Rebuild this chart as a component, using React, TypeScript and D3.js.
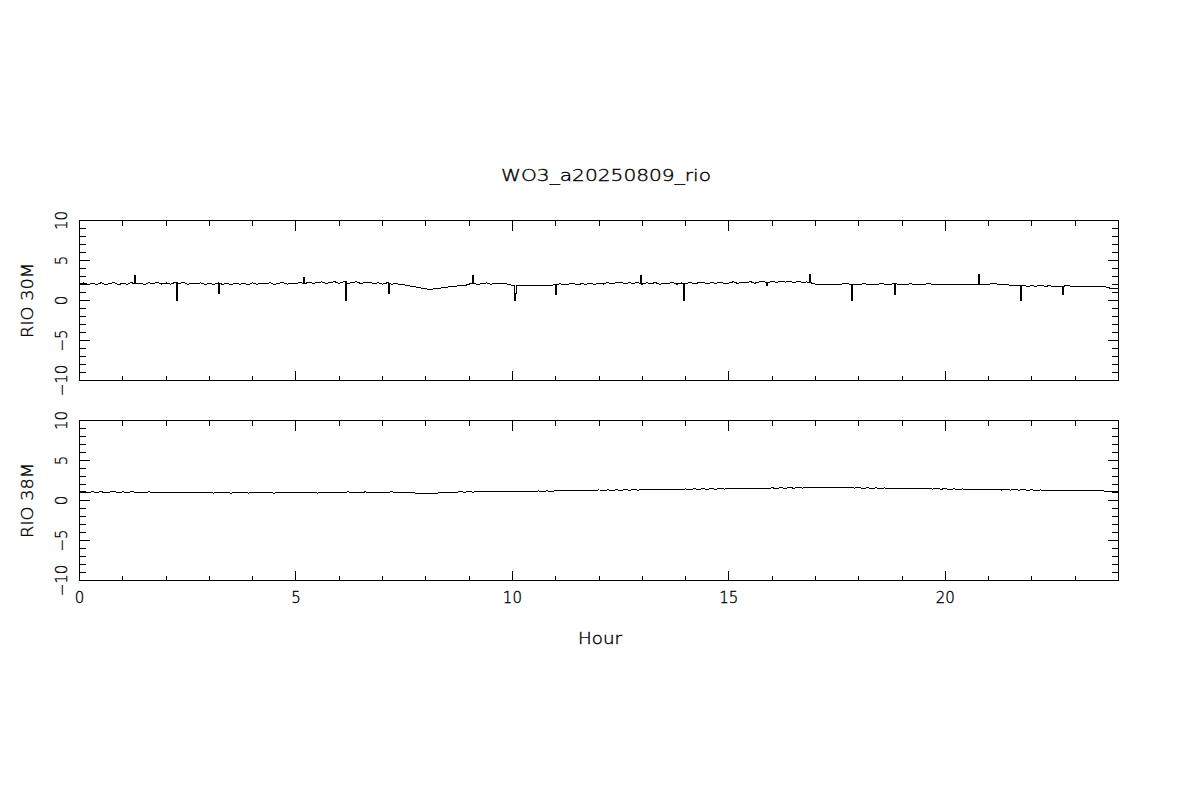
import React from "react";
import * as d3 from "d3";

const TITLE = "WO3_a20250809_rio";
const X_LABEL = "Hour";
const PANEL_LABELS = ["RIO 30M", "RIO 38M"];
const X_TICK_LABELS = [0, 5, 10, 15, 20];
const Y_TICK_LABELS = [-10, -5, 0, 5, 10];
const STEP = 0.1; // hours between samples

const rio30M = [
  2.05, 2.20, 1.98, 2.15, 2.02, 2.22, 2.00, 2.12, 2.24, 1.98,
  2.15, 2.02, 2.25, 2.08, 2.18, 2.00, 2.22, 2.10, 2.26, 2.05,
  2.20, 2.05, 2.24, 2.10, 2.28, 2.02, 2.18, 2.08, 2.22, 2.00,
  2.15, 1.98, 2.20, 2.02, 2.14, 1.96, 2.18, 2.04, 2.12, 1.98,
  2.20, 2.02, 2.18, 2.06, 2.24, 2.00, 2.16, 2.25, 2.04, 2.18,
  2.12, 2.28, 2.10, 2.30, 2.14, 2.26, 2.32, 2.12, 2.28, 2.34,
  2.14, 2.32, 2.10, 2.28, 2.34, 2.12, 2.24, 2.30, 2.08, 2.22,
  2.05, 2.20, 2.02, 2.14, 2.00, 1.95, 1.85, 1.75, 1.65, 1.55,
  1.45, 1.38, 1.46, 1.52, 1.60, 1.68, 1.74, 1.80, 1.84, 1.86,
  2.05, 2.15, 2.02, 2.12, 2.20, 2.04, 2.14, 2.08, 2.18, 2.02,
  1.90, 1.86, 1.92, 1.84, 1.88, 1.93, 1.85, 1.90, 1.87, 1.92,
  1.98, 2.08, 1.94, 2.05, 2.12, 1.96, 2.10, 2.02, 2.15, 2.00,
  2.20, 2.05, 2.25, 2.08, 2.22, 2.30, 2.06, 2.24, 2.12, 2.28,
  2.05, 2.22, 2.08, 2.26, 2.02, 2.18, 2.10, 2.28, 2.04, 2.20,
  2.10, 2.26, 2.08, 2.22, 2.30, 2.06, 2.24, 2.14, 2.32, 2.10,
  2.18, 2.34, 2.14, 2.30, 2.20, 2.36, 2.16, 2.32, 2.40, 2.22,
  2.38, 2.26, 2.44, 2.30, 2.40, 2.24, 2.36, 2.28, 2.32, 2.20,
  2.05, 2.04, 2.05, 2.05, 2.02, 2.06, 2.05, 2.10, 2.04, 2.05,
  1.98, 2.10, 2.04, 2.06, 1.98, 2.10, 2.05, 2.02, 2.08, 2.04,
  2.05, 2.04, 2.08, 2.02, 2.04, 2.03, 2.10, 2.04, 2.02, 2.03,
  2.00, 2.02, 2.00, 2.03, 2.01, 2.06, 2.00, 2.01, 2.03, 2.02,
  2.05, 2.10, 2.06, 2.05, 2.00, 1.90, 1.85, 1.82, 1.84, 1.80,
  1.82, 1.80, 1.86, 1.80, 1.82, 1.80, 1.76, 1.80, 1.84, 1.80,
  1.78, 1.80, 1.77, 1.78, 1.76, 1.80, 1.74, 1.72, 1.55, 1.50,
  1.55,
];

const rio38M = [
  1.05, 1.12, 1.00, 1.08, 1.02, 1.10, 0.98, 1.06, 1.12, 1.00,
  1.08, 0.98, 1.10, 1.02, 1.06, 0.98, 1.09, 1.01, 1.06, 1.00,
  1.04, 0.95, 1.06, 0.98, 1.03, 0.94, 1.05, 0.97, 1.02, 0.95,
  1.02, 0.93, 1.04, 0.96, 1.00, 0.92, 1.03, 0.95, 0.99, 0.93,
  1.01, 0.93, 1.04, 0.95, 1.00, 0.92, 1.03, 0.96, 1.00, 0.94,
  1.02, 0.94, 1.05, 0.96, 1.01, 0.93, 1.04, 0.97, 1.02, 0.95,
  1.06, 0.98, 1.08, 1.00, 1.05, 0.97, 1.08, 1.01, 1.06, 0.99,
  1.06, 1.00, 1.08, 1.02, 1.04, 1.00, 0.98, 0.96, 0.92, 0.90,
  0.88, 0.92, 0.90, 0.95, 0.97, 1.00, 1.02, 1.05, 1.08, 1.04,
  1.12, 1.04, 1.15, 1.06, 1.14, 1.08, 1.16, 1.07, 1.13, 1.09,
  1.16, 1.10, 1.18, 1.11, 1.17, 1.12, 1.19, 1.13, 1.20, 1.14,
  1.22, 1.27, 1.19, 1.28, 1.21, 1.29, 1.23, 1.30, 1.24, 1.28,
  1.32, 1.25, 1.33, 1.27, 1.34, 1.28, 1.35, 1.29, 1.34, 1.30,
  1.38, 1.31, 1.39, 1.32, 1.40, 1.33, 1.41, 1.34, 1.40, 1.35,
  1.45, 1.38, 1.46, 1.39, 1.47, 1.40, 1.48, 1.41, 1.49, 1.43,
  1.52, 1.45, 1.53, 1.46, 1.54, 1.47, 1.55, 1.48, 1.56, 1.50,
  1.58, 1.52, 1.60, 1.53, 1.61, 1.54, 1.62, 1.55, 1.63, 1.57,
  1.64, 1.57, 1.65, 1.58, 1.63, 1.56, 1.64, 1.57, 1.62, 1.55,
  1.60, 1.52, 1.59, 1.51, 1.58, 1.50, 1.57, 1.49, 1.56, 1.48,
  1.54, 1.46, 1.52, 1.45, 1.51, 1.44, 1.50, 1.43, 1.49, 1.42,
  1.47, 1.39, 1.45, 1.38, 1.44, 1.37, 1.43, 1.36, 1.42, 1.35,
  1.40, 1.32, 1.38, 1.31, 1.37, 1.30, 1.36, 1.29, 1.35, 1.28,
  1.33, 1.26, 1.32, 1.25, 1.31, 1.22, 1.30, 1.24, 1.29, 1.23,
  1.28, 1.21, 1.27, 1.20, 1.26, 1.19, 1.24, 1.16, 1.12, 1.08,
  1.12,
];

const spikeHours30 = [1.27, 2.24, 3.2, 5.17, 6.14, 7.13, 9.07, 10.06, 11.0, 12.97, 13.96, 15.88, 16.87, 17.84, 18.83, 20.77, 21.73, 22.71];
const spikeValues30 = [3.1, 0.0, 0.85, 2.9, 0.0, 0.85, 3.1, 0.0, 0.8, 3.1, 0.0, 1.8, 3.2, 0.0, 0.8, 3.2, 0.0, 0.8];
const spikeHours38: number[] = [];
const spikeValues38: number[] = [];

type Pt = [number, number];

function buildPoints(values: number[], sHours: number[], sVals: number[]): Pt[] {
  const pts: Pt[] = values.map((v, i) => [i * STEP, v]);
  sHours.forEach((h, k) => {
    const base = values[Math.round(h / STEP)];
    pts.push([h - 0.0005, base], [h, sVals[k]], [h + 0.023, sVals[k]], [h + 0.0235, base]);
  });
  pts.sort((a, b) => a[0] - b[0]);
  return pts;
}

const FONT = "'DejaVu Sans', sans-serif";
const FW = 200;
const TXT = { fontFamily: FONT, fontWeight: FW, fontSize: 15, fill: "#000", stroke: "#000", strokeWidth: 0.35 };

export default function App() {
  const x = d3.scaleLinear().domain([0, 24]).range([79.5, 1118.5]);
  const panels = [
    { top: 220.5, bottom: 380.5, label: PANEL_LABELS[0], pts: buildPoints(rio30M, spikeHours30, spikeValues30), xLabels: false },
    { top: 420.5, bottom: 580.5, label: PANEL_LABELS[1], pts: buildPoints(rio38M, spikeHours38, spikeValues38), xLabels: true },
  ];
  const xMinor = d3.range(0, 25, 1);
  const yMinor = d3.range(-10, 11, 1);
  const left = x(0);
  const right = x(24);

  return (
    <svg width={1200} height={800} style={{ position: "absolute", left: 0, top: 0, display: "block", background: "#fff" }}>
      <rect x={0} y={0} width={1200} height={800} fill="#fff" />
      <text x={606} y={181} textAnchor="middle" {...TXT} textLength={210} lengthAdjust="spacingAndGlyphs">
        {TITLE}
      </text>
      {panels.map((p, pi) => {
        const y = d3.scaleLinear().domain([-10, 10]).range([p.bottom, p.top]);
        const line = d3.line<Pt>().x((d) => x(d[0])).y((d) => y(d[1]));
        const cy = (p.top + p.bottom) / 2;
        return (
          <g key={pi}>
            <rect x={left} y={p.top} width={right - left} height={p.bottom - p.top} fill="none" stroke="#000" strokeWidth={1} shapeRendering="crispEdges" />
            {xMinor.map((t) => {
              const len = t % 5 === 0 ? 10 : 5;
              const xx = Math.round(x(t) - 0.5) + 0.5;
              return (
                <g key={"x" + t}>
                  <line x1={xx} x2={xx} y1={p.bottom} y2={p.bottom - len} stroke="#000" shapeRendering="crispEdges" />
                  <line x1={xx} x2={xx} y1={p.top} y2={p.top + len} stroke="#000" shapeRendering="crispEdges" />
                </g>
              );
            })}
            {yMinor.map((t) => {
              const len = t % 5 === 0 ? 10.5 : 6.5;
              const yy = Math.round(y(t) - 0.5) + 0.5;
              return (
                <g key={"y" + t}>
                  <line x1={left} x2={left + len} y1={yy} y2={yy} stroke="#000" shapeRendering="crispEdges" />
                  <line x1={right} x2={right - len} y1={yy} y2={yy} stroke="#000" shapeRendering="crispEdges" />
                </g>
              );
            })}
            {Y_TICK_LABELS.map((t) => (
              <text key={"yl" + t} transform={`translate(67,${y(t)}) rotate(-90)`} textAnchor="middle" {...TXT}>
                {t < 0 ? "\u2212" + Math.abs(t) : String(t)}
              </text>
            ))}
            <text transform={`translate(33,${cy}) rotate(-90)`} textAnchor="middle" {...TXT} textLength={75} lengthAdjust="spacingAndGlyphs">
              {p.label}
            </text>
            <path d={line(p.pts) || ""} fill="none" stroke="#000" strokeWidth={1} shapeRendering="crispEdges" />
            {p.xLabels &&
              X_TICK_LABELS.map((t) => (
                <text key={"xl" + t} x={x(t)} y={603} textAnchor="middle" {...TXT}>
                  {String(t)}
                </text>
              ))}
          </g>
        );
      })}
      <text x={600} y={644} textAnchor="middle" {...TXT} textLength={44} lengthAdjust="spacingAndGlyphs">
        {X_LABEL}
      </text>
    </svg>
  );
}
